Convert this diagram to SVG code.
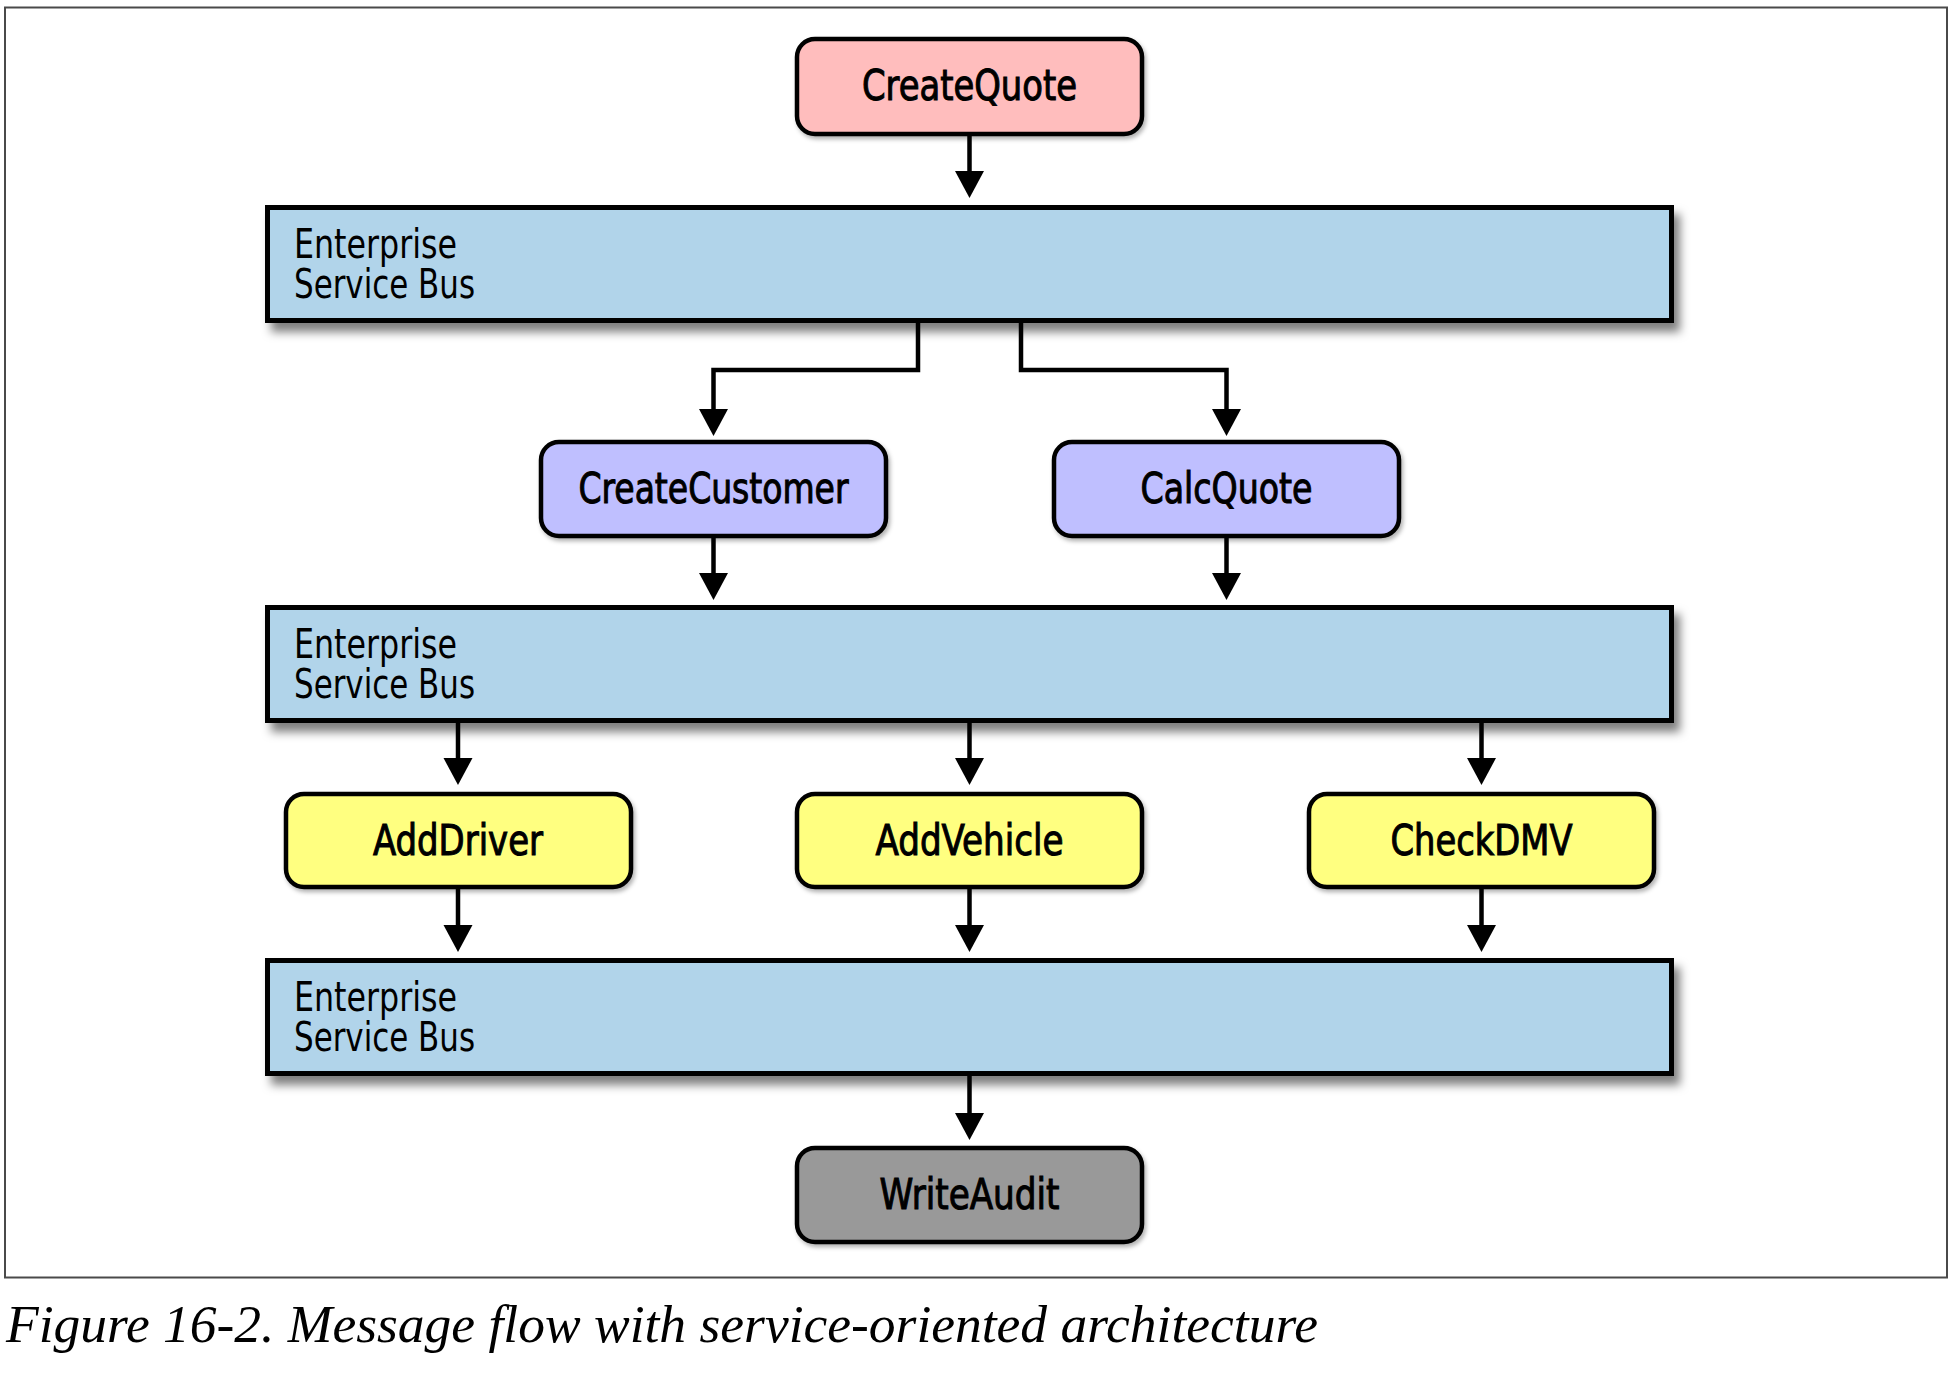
<svg xmlns="http://www.w3.org/2000/svg" width="1956" height="1374" viewBox="0 0 1956 1374">
  <style>
    .frame { fill: #ffffff; stroke: #4a4a4a; stroke-width: 2; }
    .bus { fill: #b1d4ea; stroke: #000000; stroke-width: 5; filter: url(#busShadow); }
    .node { stroke: #000000; stroke-width: 4.5; filter: url(#nodeShadow); }
    .pink { fill: #ffbdbd; }
    .violet { fill: #bfbfff; }
    .yellow { fill: #ffff80; }
    .gray { fill: #999999; }
    .label { font-family: "Liberation Sans Narrow", "DejaVu Sans Condensed", "Roboto Condensed", "Liberation Sans", sans-serif; font-size: 42px; fill: #000000; }
    .blabel { font-size: 40px; }
    .nlabel { text-anchor: middle; stroke: #000000; stroke-width: 1px; }
    .conn { fill: none; stroke: #000000; stroke-width: 4.5; marker-end: url(#arrow); }
    .caption { font-family: "Liberation Serif", "DejaVu Serif", serif; font-style: italic; font-size: 53px; fill: #000000; }
  </style>
  <defs>
    <filter id="busShadow" x="-5%" y="-20%" width="110%" height="150%">
      <feDropShadow dx="6" dy="9" stdDeviation="5" flood-color="#000000" flood-opacity="0.5"/>
    </filter>
    <filter id="nodeShadow" x="-5%" y="-10%" width="110%" height="130%">
      <feDropShadow dx="2" dy="3" stdDeviation="2" flood-color="#000000" flood-opacity="0.3"/>
    </filter>
    <marker id="arrow" markerUnits="userSpaceOnUse" markerWidth="30" markerHeight="30" viewBox="0 0 27 30" refX="12" refY="15" orient="auto">
      <path d="M0,0.5 L27,15 L0,29.5 Z" fill="#000000"/>
    </marker>
  </defs>

  <rect class="frame" x="5" y="7.5" width="1942" height="1270"/>

  <g id="connectors">
    <path class="conn" d="M969.5,136 V183"/>
    <path class="conn" d="M918,323 V370 H713.5 V421"/>
    <path class="conn" d="M1021,323 V370 H1226.5 V421"/>
    <path class="conn" d="M713.5,538 V585"/>
    <path class="conn" d="M1226.5,538 V585"/>
    <path class="conn" d="M458,721 V770"/>
    <path class="conn" d="M969.5,721 V770"/>
    <path class="conn" d="M1481.5,721 V770"/>
    <path class="conn" d="M458,889 V937"/>
    <path class="conn" d="M969.5,889 V937"/>
    <path class="conn" d="M1481.5,889 V937"/>
    <path class="conn" d="M969.5,1074 V1125"/>
  </g>

  <g id="esb1">
    <rect class="bus" x="267.5" y="207.5" width="1404" height="113"/>
    <text class="label blabel" x="294" y="258" textLength="163" lengthAdjust="spacingAndGlyphs">Enterprise</text>
    <text class="label blabel" x="294" y="298" textLength="181" lengthAdjust="spacingAndGlyphs">Service Bus</text>
  </g>
  <g id="esb2">
    <rect class="bus" x="267.5" y="607.5" width="1404" height="113"/>
    <text class="label blabel" x="294" y="658" textLength="163" lengthAdjust="spacingAndGlyphs">Enterprise</text>
    <text class="label blabel" x="294" y="698" textLength="181" lengthAdjust="spacingAndGlyphs">Service Bus</text>
  </g>
  <g id="esb3">
    <rect class="bus" x="267.5" y="960.5" width="1404" height="113"/>
    <text class="label blabel" x="294" y="1011" textLength="163" lengthAdjust="spacingAndGlyphs">Enterprise</text>
    <text class="label blabel" x="294" y="1051" textLength="181" lengthAdjust="spacingAndGlyphs">Service Bus</text>
  </g>

  <g id="createQuote">
    <rect class="node pink" x="797" y="39" width="345" height="95" rx="18"/>
    <text class="label nlabel" x="969.5" y="100" textLength="215" lengthAdjust="spacingAndGlyphs">CreateQuote</text>
  </g>
  <g id="createCustomer">
    <rect class="node violet" x="541" y="442" width="345" height="94" rx="18"/>
    <text class="label nlabel" x="713.5" y="503" textLength="270" lengthAdjust="spacingAndGlyphs">CreateCustomer</text>
  </g>
  <g id="calcQuote">
    <rect class="node violet" x="1054" y="442" width="345" height="94" rx="18"/>
    <text class="label nlabel" x="1226.5" y="503" textLength="172" lengthAdjust="spacingAndGlyphs">CalcQuote</text>
  </g>
  <g id="addDriver">
    <rect class="node yellow" x="286" y="794" width="345" height="93" rx="18"/>
    <text class="label nlabel" x="458" y="855" textLength="170" lengthAdjust="spacingAndGlyphs">AddDriver</text>
  </g>
  <g id="addVehicle">
    <rect class="node yellow" x="797" y="794" width="345" height="93" rx="18"/>
    <text class="label nlabel" x="969.5" y="855" textLength="188" lengthAdjust="spacingAndGlyphs">AddVehicle</text>
  </g>
  <g id="checkDMV">
    <rect class="node yellow" x="1309" y="794" width="345" height="93" rx="18"/>
    <text class="label nlabel" x="1481.5" y="855" textLength="182" lengthAdjust="spacingAndGlyphs">CheckDMV</text>
  </g>
  <g id="writeAudit">
    <rect class="node gray" x="797" y="1148" width="345" height="94" rx="18"/>
    <text class="label nlabel" x="969.5" y="1209" textLength="180" lengthAdjust="spacingAndGlyphs">WriteAudit</text>
  </g>

  <text class="caption" x="6" y="1342" textLength="1312" lengthAdjust="spacingAndGlyphs">Figure 16-2. Message flow with service-oriented architecture</text>
</svg>
